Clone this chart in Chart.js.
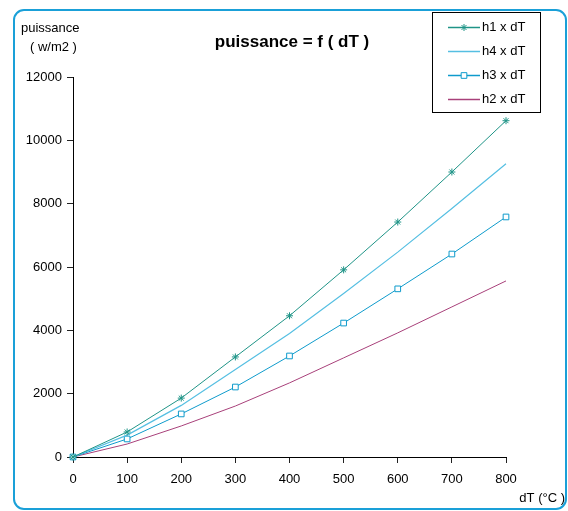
<!DOCTYPE html>
<html>
<head>
<meta charset="utf-8">
<script src="https://cdn.jsdelivr.net/npm/chart.js@4"></script>
<style>
    html, body { margin: 0; padding: 0; background: #fff; }
    #wrap { width: 568px; height: 511px; }
</style>
</head>
<body>
<div id="wrap"><canvas id="chart" width="568" height="511"></canvas></div>
<script>
/* ---------------- DATA ---------------- */

const dT = [0, 100, 200, 300, 400, 500, 600, 700, 800];

const h1 = [0, 790, 1860, 3160, 4460, 5910, 7420, 9000, 10620];
const h4 = [0, 690, 1630, 2760, 3900, 5160, 6470, 7850, 9260];
const h3 = [0, 570, 1360, 2210, 3190, 4230, 5310, 6410, 7580];
const h2 = [0, 410, 980, 1610, 2340, 3130, 3920, 4740, 5560];

const seriesNames = ["h1 x dT", "h4 x dT", "h3 x dT", "h2 x dT"];

const xTicks = [0, 100, 200, 300, 400, 500, 600, 700, 800];
const yTicks = [0, 2000, 4000, 6000, 8000, 10000, 12000];

const FONT = "'Liberation Sans', Arial, sans-serif";

function pts(values) {
    return values.map((v, i) => ({ x: dT[i], y: v }));
}

/* ---------------- DECORATION PLUGIN ---------------- */

const decor = {
    id: "decor",
    beforeDraw(chart) {
        const ctx = chart.ctx;
        ctx.save();
        ctx.strokeStyle = "#1aa0d8";
        ctx.lineWidth = 2;
        ctx.beginPath();
        ctx.roundRect(14, 10, 552, 499, 10);
        ctx.stroke();
        ctx.restore();
    },
    afterDraw(chart) {
        const ctx = chart.ctx;
        ctx.save();
        ctx.fillStyle = "#000";
        ctx.textBaseline = "middle";

        // title
        ctx.font = "bold 17px " + FONT;
        ctx.textAlign = "center";
        ctx.fillText("puissance = f ( dT )", 292, 42);

        // axis titles
        ctx.font = "13px " + FONT;
        ctx.textAlign = "left";
        ctx.fillText("puissance", 21, 28);
        ctx.fillText("( w/m2 )", 30, 47);
        ctx.textAlign = "right";
        ctx.fillText("dT (\u00b0C )", 565, 498);

        // legend box
        ctx.strokeStyle = "#000";
        ctx.lineWidth = 1;
        ctx.fillStyle = "#fff";
        ctx.fillRect(432.5, 12.5, 108, 100);
        ctx.strokeRect(432.5, 12.5, 108, 100);

        chart.data.datasets.forEach((ds, i) => {
            const y = 27 + i * 24;
            ctx.strokeStyle = ds.borderColor;
            ctx.lineWidth = 1.5;
            ctx.beginPath();
            ctx.moveTo(448, y + 0.5);
            ctx.lineTo(480, y + 0.5);
            ctx.stroke();
            if (ds.pointRadius > 0) {
                ctx.fillStyle = "#fff";
                ctx.lineWidth = 1;
                Chart.helpers.drawPoint(ctx, {
                    pointStyle: ds.pointStyle,
                    radius: ds.pointRadius,
                    borderWidth: 1
                }, 464, y + 0.5);
            }
            ctx.fillStyle = "#000";
            ctx.font = "13px " + FONT;
            ctx.textAlign = "left";
            ctx.fillText(ds.label, 482, y);
        });

        ctx.restore();
    }
};

/* ---------------- CHART ---------------- */

const ctx = document.getElementById("chart");

new Chart(ctx, {
    type: "line",
    data: {
        datasets: [
            {
                label: seriesNames[0],
                data: pts(h1),
                borderColor: "#1f9487",
                backgroundColor: "#1f9487",
                borderWidth: 1,
                pointStyle: "star",
                pointRadius: 3.5,
                pointBorderWidth: 1,
                clip: false
            },
            {
                label: seriesNames[1],
                data: pts(h4),
                borderColor: "#55bfe2",
                backgroundColor: "#55bfe2",
                borderWidth: 1.2,
                pointRadius: 0,
                clip: false
            },
            {
                label: seriesNames[2],
                data: pts(h3),
                borderColor: "#0e9bcc",
                backgroundColor: "#fff",
                borderWidth: 1,
                pointStyle: "rect",
                pointRadius: 4,
                pointBorderWidth: 1,
                clip: false
            },
            {
                label: seriesNames[3],
                data: pts(h2),
                borderColor: "#a8407a",
                backgroundColor: "#a8407a",
                borderWidth: 1,
                pointRadius: 0,
                clip: false
            }
        ]
    },
    options: {
        responsive: false,
        animation: false,
        events: [],
        layout: {
            padding: { left: 0, right: 62, top: 77, bottom: 0 }
        },
        plugins: {
            legend: { display: false },
            title: { display: false },
            tooltip: { enabled: false }
        },
        elements: {
            line: { tension: 0 }
        },
        scales: {
            x: {
                type: "linear",
                min: 0,
                max: 800,
                afterBuildTicks: scale => {
                    scale.ticks = xTicks.map(v => ({ value: v }));
                },
                afterFit: scale => { scale.height = 54; },
                border: { color: "#000", width: 1 },
                grid: {
                    drawOnChartArea: false,
                    drawTicks: true,
                    tickLength: 6,
                    tickColor: "#222"
                },
                ticks: {
                    color: "#000",
                    padding: 9,
                    maxRotation: 0,
                    font: { family: FONT, size: 13 }
                }
            },
            y: {
                type: "linear",
                min: 0,
                max: 12000,
                afterBuildTicks: scale => {
                    scale.ticks = yTicks.map(v => ({ value: v }));
                },
                afterFit: scale => { scale.width = 73; },
                border: { color: "#000", width: 1 },
                grid: {
                    drawOnChartArea: false,
                    drawTicks: true,
                    tickLength: 6,
                    tickColor: "#222"
                },
                ticks: {
                    color: "#000",
                    padding: 5,
                    font: { family: FONT, size: 13 },
                    callback: v => String(v)
                }
            }
        }
    },
    plugins: [decor]
});
</script>
</body>
</html>
